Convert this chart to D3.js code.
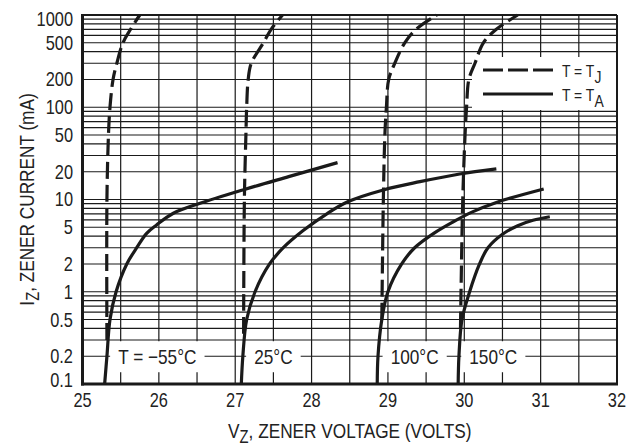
<!DOCTYPE html>
<html><head><meta charset="utf-8">
<script src="https://cdn.jsdelivr.net/npm/d3@7"></script>
<style>
body{margin:0;background:#fff;}
svg text{font-family:"Liberation Sans Narrow","Arial Narrow","Liberation Sans",Arial,sans-serif;fill:#222;}
</style></head><body><svg id="c" width="635" height="445"></svg>
<script>
// ---- data ----
const xTicks = [25,26,27,28,29,30,31,32];
const yTicks = [0.1,0.2,0.5,1,2,5,10,20,50,100,200,500,1000];
const yTickLabels = ["0.1","0.2","0.5","1","2","5","10","20","50","100","200","500","1000"];
const tempLabels = ["T = −55°C","25°C","100°C","150°C"];
const tempLabelV = [25.98,27.50,29.35,30.38];
const tempLabelI = 0.2;

// T = TJ (dashed)
const tjM55V = [25.32,25.32,25.34,25.36,25.40,25.45,25.53,25.63,25.75];
const tjM55I = [0.3,10,50,100,200,300,500,700,1000];
const tj25V  = [27.11,27.12,27.14,27.15,27.17,27.21,27.37,27.47,27.62];
const tj25I  = [0.35,10,50,100,200,300,500,700,1000];
const tj100V = [28.92,28.94,28.96,28.98,29.01,29.09,29.22,29.37,29.64];
const tj100I = [0.5,10,50,100,200,300,500,700,1000];
const tj150V = [29.95,29.98,30.01,30.03,30.06,30.14,30.25,30.42,30.70];
const tj150I = [0.4,10,50,100,200,300,500,700,1000];

// T = TA (solid)
const taM55V = [25.29,25.32,25.36,25.44,25.58,25.71,25.84,25.97,26.19,26.54,27.10,27.70,28.34];
const taM55I = [0.1,0.2,0.5,1,2,3,4.3,5.3,7.1,9.1,12.7,17.7,25.1];
const ta25V  = [27.08,27.10,27.15,27.26,27.45,27.63,27.89,28.20,28.48,28.94,29.42,29.94,30.42];
const ta25I  = [0.1,0.2,0.5,1,2,3,4.6,7.0,9.5,12.7,15.6,18.9,21.5];
const ta100V = [28.86,28.87,28.92,29.00,29.18,29.35,29.60,29.85,30.10,30.42,31.04];
const ta100I = [0.1,0.2,0.5,1,2,3,4.3,5.7,7.3,9.3,13];
const ta150V = [29.92,29.93,29.97,30.07,30.20,30.31,30.50,30.70,30.90,31.12];
const ta150I = [0.1,0.2,0.5,1,2,3,4.2,5.2,5.95,6.5];

const dashedSeries = [[tjM55V,tjM55I],[tj25V,tj25I],[tj100V,tj100I],[tj150V,tj150I]];
const solidSeries  = [[taM55V,taM55I],[ta25V,ta25I],[ta100V,ta100I],[ta150V,ta150I]];

// ---- chart ----
const svg = d3.select("#c");
const L = 82.5, R = 617, T = 15, B = 384;
const x = d3.scaleLinear().domain([25,32]).range([L,R]);
const y = d3.scaleLog().domain([0.1,1000]).range([B,T]);
const ink = "#1a1a1a";
const SX = 0.82; // condensed type
const condense = (sel, cx) => sel.attr("transform", `translate(${cx},0) scale(${SX},1) translate(${-cx},0)`);

// grid
const gridV = d3.range(25.5, 32, 0.5);
const gridH = [];
[-1,0,1,2].forEach(k => { for (let d=1; d<=9; d++) { const v = d*Math.pow(10,k); if (v>0.1+1e-9) gridH.push(v);} });
const g = svg.append("g");
g.selectAll("line.v").data(gridV).enter().append("line")
  .attr("x1",d=>x(d)).attr("x2",d=>x(d)).attr("y1",T).attr("y2",B)
  .attr("stroke",ink).attr("stroke-width",1.2);
g.selectAll("line.h").data(gridH).enter().append("line")
  .attr("x1",L).attr("x2",R).attr("y1",d=>y(d)).attr("y2",d=>y(d))
  .attr("stroke",ink).attr("stroke-width",1.2);

// temperature label boxes
const lab = svg.append("g");
tempLabels.forEach((t,i) => {
  const gg = lab.append("g");
  const r = gg.append("rect").attr("fill","#fff");
  const cx = x(tempLabelV[i]);
  const tx = gg.append("text").attr("x",cx).attr("y",y(tempLabelI)+7.7)
    .attr("text-anchor","middle").attr("font-size",21).text(t);
  condense(tx, cx);
  const w = tx.node().getBBox().width*SX;
  r.attr("x",cx-w/2-8).attr("width",w+16).attr("y",y(tempLabelI)-15).attr("height",31);
});

// legend box
const leg = svg.append("g");
leg.append("rect").attr("x",472).attr("y",57).attr("width",R-472).attr("height",53).attr("fill","#fff");

// frame
svg.append("line").attr("x1",L).attr("x2",R).attr("y1",T).attr("y2",T).attr("stroke",ink).attr("stroke-width",2);
svg.append("line").attr("x1",R).attr("x2",R).attr("y1",T).attr("y2",B).attr("stroke",ink).attr("stroke-width",2);
svg.append("line").attr("x1",L).attr("x2",L).attr("y1",T-1).attr("y2",B+1.5).attr("stroke",ink).attr("stroke-width",3);
svg.append("line").attr("x1",L-1.5).attr("x2",R+1).attr("y1",B).attr("y2",B).attr("stroke",ink).attr("stroke-width",3);

// curves
const line = d3.line().x(d=>x(d[0])).y(d=>y(d[1])).curve(d3.curveCatmullRom.alpha(0.5));
const toPts = s => s[0].map((v,i)=>[v,s[1][i]]);
svg.append("g").selectAll("path").data(solidSeries).enter().append("path")
  .attr("d",s=>line(toPts(s))).attr("fill","none").attr("stroke",ink).attr("stroke-width",3.2);
svg.append("g").selectAll("path").data(dashedSeries).enter().append("path")
  .attr("d",s=>line(toPts(s))).attr("fill","none").attr("stroke",ink).attr("stroke-width",3.2)
  .attr("stroke-dasharray","17,6");

// legend content
leg.append("line").attr("x1",483).attr("x2",553).attr("y1",70).attr("y2",70)
  .attr("stroke",ink).attr("stroke-width",3.2).attr("stroke-dasharray","20,5");
leg.append("line").attr("x1",483).attr("x2",553).attr("y1",94).attr("y2",94)
  .attr("stroke",ink).attr("stroke-width",3.2);
const lt1 = leg.append("text").attr("x",562).attr("y",77).attr("font-size",17);
lt1.append("tspan").text("T = T");
lt1.append("tspan").attr("dy",6).text("J");
condense(lt1, 562);
const lt2 = leg.append("text").attr("x",562).attr("y",101.5).attr("font-size",17);
lt2.append("tspan").text("T = T");
lt2.append("tspan").attr("dy",6).text("A");
condense(lt2, 562);

// tick labels
svg.append("g").selectAll("text").data(xTicks).enter().append("text")
  .attr("x",d=>x(d)).attr("y",407).attr("text-anchor","middle").attr("font-size",20).text(d=>d)
  .each(function(d){ condense(d3.select(this), x(d)); });
svg.append("g").selectAll("text").data(yTicks).enter().append("text")
  .attr("x",73).attr("y",(d,i)=>y(d)+7 + (i===0?-4:(i===yTicks.length-1?4:0)))
  .attr("text-anchor","end").attr("font-size",20).text((d,i)=>yTickLabels[i])
  .each(function(){ condense(d3.select(this), 73); });

// axis titles
const xt = svg.append("text").attr("x",(L+R)/2).attr("y",438).attr("text-anchor","middle").attr("font-size",21);
xt.append("tspan").text("V");
xt.append("tspan").attr("dy",5).attr("font-size",18).text("Z");
xt.append("tspan").attr("dy",-5).text(", ZENER VOLTAGE (VOLTS)");
condense(xt, (L+R)/2);
const yt = svg.append("text").attr("transform",`translate(33.5,${(T+B)/2}) rotate(-90) scale(${SX},1)`).attr("text-anchor","middle").attr("font-size",21);
yt.append("tspan").text("I");
yt.append("tspan").attr("dy",5).attr("font-size",18).text("Z");
yt.append("tspan").attr("dy",-5).text(", ZENER CURRENT (mA)");
</script></body></html>
